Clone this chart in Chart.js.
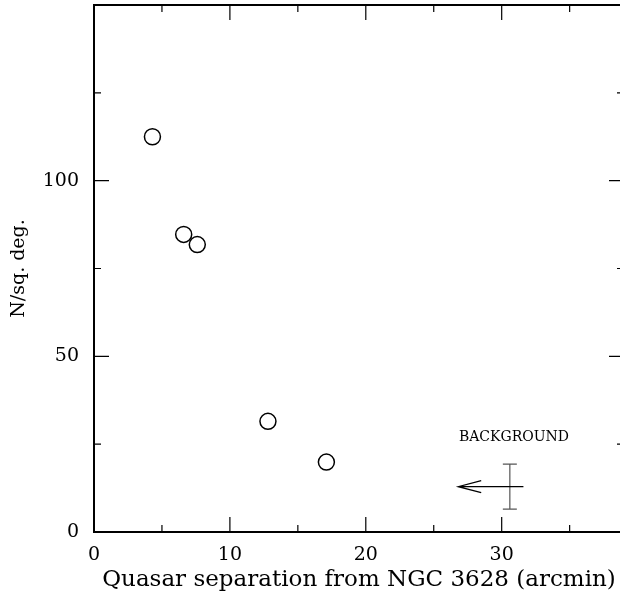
<!DOCTYPE html>
<html>
<head>
<meta charset="utf-8">
<script src="https://cdn.jsdelivr.net/npm/chart.js@4"></script>
<style>
  html, body { margin: 0; padding: 0; background: #fff; overflow: hidden; }
  #wrap { width: 630px; height: 594px; }
</style>
</head>
<body>
<div id="wrap"><canvas id="quasarChart"></canvas></div>
<script>
// Quasar surface density vs separation from NGC 3628
var separation = [4.3, 6.6, 7.6, 12.8, 17.1];
var density = [112.5, 84.7, 81.8, 31.5, 19.9];

var xTickLabels = [0, 10, 20, 30];
var xMinorTicks = [5, 15, 25, 35];
var yTickLabels = [0, 50, 100];
var yMinorTicks = [25, 75, 125];

// background level: value, error, and the arrow span
var bgX = 30.6;
var bgY = 12.9;
var bgErr = 6.4;
var arrowFrom = 31.6;
var arrowTo = 26.8;
var bgLabel = 'BACKGROUND';
var bgLabelPos = [30.9, 27];

var serif = '"DejaVu Serif", "Liberation Serif", serif';

// frame with inward ticks on all four sides, plus the background marker
var framePlugin = {
    id: 'frame',
    afterDraw: function(chart) {
        var ctx = chart.ctx;
        var a = chart.chartArea;
        var xs = chart.scales.x, ys = chart.scales.y;
        ctx.save();
        ctx.strokeStyle = '#000';
        ctx.lineWidth = 2;
        ctx.strokeRect(a.left, a.top, a.right - a.left, a.bottom - a.top);

        ctx.lineWidth = 1.2;
        function xTick(v, len) {
            var px = xs.getPixelForValue(v);
            ctx.beginPath();
            ctx.moveTo(px, a.bottom); ctx.lineTo(px, a.bottom - len);
            ctx.moveTo(px, a.top); ctx.lineTo(px, a.top + len);
            ctx.stroke();
        }
        function yTick(v, len) {
            var py = ys.getPixelForValue(v);
            ctx.beginPath();
            ctx.moveTo(a.left, py); ctx.lineTo(a.left + len, py);
            ctx.moveTo(a.right, py); ctx.lineTo(a.right - len, py);
            ctx.stroke();
        }
        xTickLabels.forEach(function(v) { if (v > 0) xTick(v, 15); });
        xMinorTicks.forEach(function(v) { xTick(v, 7); });
        yTickLabels.forEach(function(v) { if (v > 0) yTick(v, 15); });
        yMinorTicks.forEach(function(v) { yTick(v, 7); });

        // background error bar
        var bx = xs.getPixelForValue(bgX);
        var top = ys.getPixelForValue(bgY + bgErr);
        var bot = ys.getPixelForValue(bgY - bgErr);
        ctx.strokeStyle = '#555';
        ctx.lineWidth = 1.2;
        ctx.beginPath();
        ctx.moveTo(bx, top); ctx.lineTo(bx, bot);
        ctx.moveTo(bx - 7, top); ctx.lineTo(bx + 7, top);
        ctx.moveTo(bx - 7, bot); ctx.lineTo(bx + 7, bot);
        ctx.stroke();

        // arrow pointing left
        var ay = ys.getPixelForValue(bgY);
        var x1 = xs.getPixelForValue(arrowFrom);
        var x2 = xs.getPixelForValue(arrowTo);
        ctx.strokeStyle = '#000';
        ctx.beginPath();
        ctx.moveTo(x1, ay); ctx.lineTo(x2, ay);
        ctx.moveTo(x2 + 23, ay - 6); ctx.lineTo(x2, ay); ctx.lineTo(x2 + 23, ay + 6);
        ctx.stroke();

        ctx.fillStyle = '#000';
        ctx.font = '14px ' + serif;
        ctx.textAlign = 'center';
        ctx.textBaseline = 'middle';
        ctx.fillText(bgLabel, xs.getPixelForValue(bgLabelPos[0]), ys.getPixelForValue(bgLabelPos[1]));
        ctx.restore();
    }
};

var points = separation.map(function(x, i) { return { x: x, y: density[i] }; });

var ctx = document.getElementById('quasarChart').getContext('2d');
var quasarChart = new Chart(ctx, {
    type: 'scatter',
    data: {
        datasets: [{
            label: 'Quasars',
            data: points,
            pointStyle: 'circle',
            pointRadius: 8,
            pointHoverRadius: 8,
            borderWidth: 1.5,
            borderColor: '#000',
            backgroundColor: 'rgba(0,0,0,0)'
        }]
    },
    options: {
        responsive: true,
        maintainAspectRatio: false,
        animation: false,
        layout: { autoPadding: false, padding: { top: 5, right: 6, left: 0, bottom: 0 } },
        plugins: {
            legend: { display: false },
            tooltip: { enabled: false }
        },
        scales: {
            x: {
                type: 'linear',
                min: 0,
                max: 39,
                grid: { display: false },
                border: { display: false },
                afterBuildTicks: function(s) { s.ticks = xTickLabels.map(function(v) { return { value: v }; }); },
                afterFit: function(s) { s.height = 62; s.paddingLeft = 0; s.paddingRight = 0; },
                ticks: {
                    color: '#000',
                    padding: 4,
                    maxRotation: 0,
                    font: { family: serif, size: 19 }
                },
                title: {
                    display: true,
                    text: 'Quasar separation from NGC 3628 (arcmin)',
                    color: '#000',
                    padding: { top: 0, bottom: 0 },
                    font: { family: serif, size: 23 }
                }
            },
            y: {
                type: 'linear',
                min: 0,
                max: 150,
                grid: { display: false },
                border: { display: false },
                afterBuildTicks: function(s) { s.ticks = yTickLabels.map(function(v) { return { value: v }; }); },
                afterFit: function(s) { s.width = 94; s.paddingTop = 0; s.paddingBottom = 0; },
                ticks: {
                    color: '#000',
                    padding: 7,
                    font: { family: serif, size: 19 }
                },
                title: {
                    display: true,
                    text: 'N/sq. deg.',
                    color: '#000',
                    padding: { top: 8, bottom: 0 },
                    font: { family: serif, size: 19 }
                }
            }
        }
    },
    plugins: [framePlugin]
});
</script>
</body>
</html>
